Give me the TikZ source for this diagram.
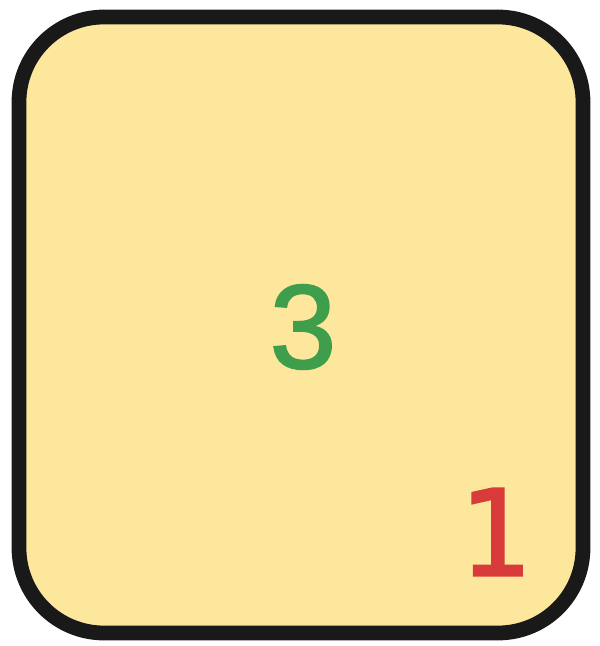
\documentclass[tikz,border=0pt]{standalone}
\usepackage{fontspec}
\setmainfont{Liberation Sans}
\newfontfamily\numfont[FakeBold=1.6]{Liberation Sans}
\newfontfamily\digitfont[FakeBold=1.6]{DejaVu Sans Mono}
\usepackage{tikz}

\definecolor{cardfill}{HTML}{FCE79C}
\definecolor{cardgreen}{HTML}{3E9E4C}
\definecolor{cardred}{HTML}{D93A3A}

\tikzset{
    card/.style={draw=black!90,fill=cardfill,line width=4.2pt,rounded corners=0.85cm,
        minimum width=5.64cm,minimum height=6.16cm,inner sep=0pt},
    bignum/.style={font=\numfont\fontsize{34}{34}\selectfont,inner sep=0pt},
}

\begin{document}
\begin{tikzpicture}
            \useasboundingbox (0,0) rectangle (6,6.46);

            \node[card] (card) at (3.01,3.21) {};

            \node[bignum,text=cardgreen] (count) at (3.03,3.19) {3};
            \node[bignum,text=cardred,font=\digitfont\fontsize{34}{34}\selectfont] (corner) at (4.94,1.14) {1};
        \end{tikzpicture}
\end{document}
